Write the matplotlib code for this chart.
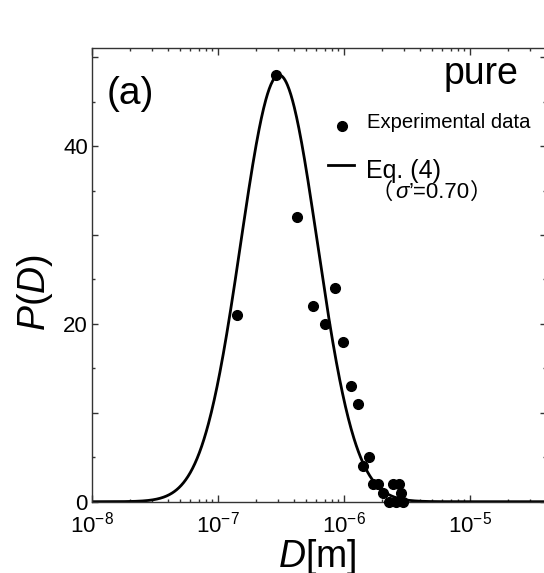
import numpy as np
import matplotlib
matplotlib.use("Agg")
import matplotlib.pyplot as plt
from matplotlib.ticker import LogLocator, MultipleLocator, FuncFormatter, NullFormatter

plt.rcParams['font.family'] = ['Liberation Sans', 'Noto Sans CJK JP', 'DejaVu Sans']
plt.rcParams['mathtext.fontset'] = 'custom'
plt.rcParams['mathtext.rm'] = 'Liberation Sans'
plt.rcParams['mathtext.it'] = 'Liberation Sans:italic'
plt.rcParams['mathtext.bf'] = 'Liberation Sans:bold'

# ---- data ----
exp_D = [1.42e-7, 2.88e-7, 4.24e-7, 5.65e-7, 7.06e-7, 8.49e-7, 9.86e-7,
         1.13e-6, 1.28e-6, 1.42e-6, 1.58e-6, 1.71e-6, 1.87e-6, 2.03e-6,
         2.29e-6, 2.46e-6, 2.59e-6, 2.75e-6, 2.83e-6, 2.96e-6]
exp_P = [21, 48, 32, 22, 20, 24, 18,
         13, 11, 4, 5, 2, 2, 1,
         0, 2, 0, 2, 1, 0]

# Eq. (4) parameters
eq_peak_D = 3.05e-7
eq_peak_P = 48.0
eq_sigma = 0.70

x_ticks = [1e-8, 1e-7, 1e-6, 1e-5]
y_labeled = [0, 20, 40]

W, H = 544, 573
fig = plt.figure(figsize=(W / 100, H / 100), dpi=100)
ax = fig.add_axes([92 / W, (H - 501.7) / H, (546 - 92) / W, (501.7 - 48.3) / H])

D = np.logspace(-8, np.log10(4e-5), 800)
P = eq_peak_P * np.exp(-np.log(D / eq_peak_D) ** 2 / (2 * eq_sigma ** 2))
ax.plot(D, P, color='black', lw=2.0, zorder=2)
ax.plot(exp_D, exp_P, 'o', color='black', ms=7, zorder=3, clip_on=False)

ax.set_xscale('log')
ax.xaxis.set_minor_locator(LogLocator(base=10, subs=np.arange(2, 10), numticks=20))
ax.xaxis.set_minor_formatter(NullFormatter())
ax.set_xticks(x_ticks)
ax.set_xticklabels([r'$10^{%d}$' % int(round(np.log10(t))) for t in x_ticks])
ax.set_xlim(1e-8, 4e-5)
ax.set_ylim(0, 51)

ax.yaxis.set_major_locator(MultipleLocator(10))
ax.yaxis.set_minor_locator(MultipleLocator(5))
ax.yaxis.set_major_formatter(FuncFormatter(lambda v, p: '%d' % v if int(round(v)) in y_labeled else ''))

ax.tick_params(which='both', direction='in', top=True, right=True, color='#333333', width=1.0)
ax.tick_params(axis='x', which='major', length=5, labelsize=16, pad=7)
ax.tick_params(axis='x', which='minor', length=2.5)
ax.tick_params(axis='y', which='major', length=4, labelsize=16, pad=3)
ax.tick_params(axis='y', which='minor', length=2)
for s in ax.spines.values():
    s.set_color('#333333')
    s.set_linewidth(1.0)

def fx(px):
    return px / W

def fy(py):
    return 1 - py / H

# axis labels
fig.text(fx(317), fy(566.7), r'$D$[m]', fontsize=27, ha='center', va='baseline')
fig.text(fx(45), fy(293), r'$P$($D$)', fontsize=27, ha='center', va='baseline',
         rotation=90, rotation_mode='anchor')

# panel texts
fig.text(fx(107), fy(104), '(a)', fontsize=28, va='baseline')
fig.text(fx(444), fy(84.5), 'pure', fontsize=27, va='baseline')

# legend
fig.lines.append(plt.Line2D([fx(341.7)], [fy(126)], marker='o', ms=7, color='black',
                            transform=fig.transFigure))
fig.text(fx(367), fy(128.3), 'Experimental data', fontsize=14.6, va='baseline')
fig.lines.append(plt.Line2D([fx(328), fx(354)], [fy(165), fy(165)], lw=2.0, color='black',
                            transform=fig.transFigure))
fig.text(fx(366.5), fy(177.7), 'Eq. (4)', fontsize=18, va='baseline')

renderer = fig.canvas.get_renderer()
x0 = 370.0
yb = fy(198.5)
pieces = [('（', 'normal', 16), (' ', 'normal', 8), ('σ', 'italic', 16),
          ('’=0.70', 'normal', 16), ('）', 'normal', 16)]
for txt, style, fs in pieces:
    t = fig.text(fx(x0), yb, txt, fontsize=fs, va='baseline', style=style,
                 family=['Liberation Sans', 'Noto Sans CJK JP'])
    bb = t.get_window_extent(renderer)
    x0 += bb.width

fig.savefig('out.png', dpi=100)
